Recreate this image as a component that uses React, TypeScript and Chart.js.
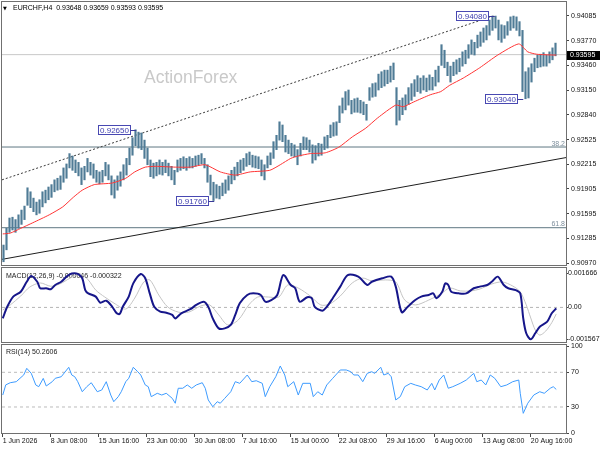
import React, { useEffect, useRef } from "react";
import { Chart, registerables } from "chart.js";

Chart.register(...registerables);

// ---------- texts ----------
const SYMBOL = "EURCHF,H4";
const LAST_OHLC = [0.93648, 0.93659, 0.93593, 0.93595];
const LAST_CLOSE = 0.93595;
const WATERMARK = "ActionForex";

// ---------- price pane (each entry = two consecutive H4 bars) ----------
const BARS_PER_ENTRY = 2;
const barHigh = [
  0.9120, 0.9141, 0.9154, 0.9155, 0.9152, 0.9158, 0.9164, 0.9169, 0.9192, 0.9187,
  0.9179, 0.9174, 0.9177, 0.9187, 0.9189, 0.9193, 0.9196, 0.9202, 0.9204, 0.9207,
  0.9217, 0.9222, 0.9235, 0.9232, 0.9227, 0.9224, 0.9217, 0.9219, 0.9229, 0.9224,
  0.9222, 0.9214, 0.9212, 0.9214, 0.9224, 0.9221, 0.9207, 0.9202, 0.9207, 0.9212,
  0.9221, 0.9229, 0.9242, 0.9255, 0.9265, 0.9262, 0.9261, 0.9252, 0.9242, 0.9227,
  0.9223, 0.9224, 0.9227, 0.9224, 0.9227, 0.9223, 0.9219, 0.9214, 0.9227, 0.9229,
  0.9231, 0.9229, 0.9231, 0.9229, 0.9232, 0.9233, 0.9235, 0.9229, 0.9221, 0.9208,
  0.9199, 0.9196, 0.9194, 0.9198, 0.9202, 0.9207, 0.9214, 0.9218, 0.9224, 0.9227,
  0.9229, 0.9235, 0.9237, 0.9233, 0.9232, 0.9231, 0.9227, 0.9221, 0.9232, 0.9236,
  0.9250, 0.9258, 0.9275, 0.9271, 0.9258, 0.9252, 0.9248, 0.9246, 0.9240, 0.9248,
  0.9256, 0.9255, 0.9252, 0.9246, 0.9245, 0.9248, 0.9247, 0.9256, 0.9258, 0.9271,
  0.9274, 0.9275, 0.9295, 0.9305, 0.9313, 0.9315, 0.9302, 0.9304, 0.9305, 0.9302,
  0.9300, 0.9297, 0.9318, 0.9323, 0.9324, 0.9335, 0.9338, 0.9340, 0.9340, 0.9345,
  0.9349, 0.9318, 0.9302, 0.9305, 0.9309, 0.9318, 0.9323, 0.9328, 0.9333, 0.9330,
  0.9333, 0.9330, 0.9334, 0.9331, 0.9340, 0.9345, 0.9372, 0.9365, 0.9350, 0.9345,
  0.9350, 0.9353, 0.9355, 0.9363, 0.9365, 0.9372, 0.9378, 0.9375, 0.9384, 0.9388,
  0.9393, 0.9396, 0.9403, 0.9408, 0.9408, 0.9403, 0.9397, 0.9396, 0.9401, 0.9407,
  0.9408, 0.9407, 0.9401, 0.9390, 0.9338, 0.9343, 0.9348, 0.9355, 0.9359, 0.9360,
  0.9362, 0.9359, 0.9363, 0.9368, 0.9374,
];
const barLow = [
  0.9099, 0.9114, 0.9136, 0.9139, 0.9136, 0.9141, 0.9146, 0.9152, 0.9170, 0.9167,
  0.9162, 0.9158, 0.9160, 0.9168, 0.9173, 0.9177, 0.9180, 0.9187, 0.9189, 0.9190,
  0.9199, 0.9204, 0.9217, 0.9214, 0.9211, 0.9207, 0.9196, 0.9202, 0.9212, 0.9208,
  0.9204, 0.9199, 0.9197, 0.9199, 0.9207, 0.9202, 0.9183, 0.9179, 0.9189, 0.9194,
  0.9202, 0.9208, 0.9221, 0.9233, 0.9245, 0.9242, 0.9240, 0.9229, 0.9221, 0.9206,
  0.9204, 0.9207, 0.9209, 0.9208, 0.9211, 0.9207, 0.9202, 0.9196, 0.9212, 0.9214,
  0.9216, 0.9214, 0.9217, 0.9217, 0.9219, 0.9221, 0.9222, 0.9217, 0.9199, 0.9183,
  0.9176, 0.9179, 0.9178, 0.9182, 0.9185, 0.9189, 0.9197, 0.9202, 0.9207, 0.9211,
  0.9214, 0.9219, 0.9221, 0.9218, 0.9217, 0.9216, 0.9207, 0.9202, 0.9217, 0.9221,
  0.9229, 0.9240, 0.9252, 0.9250, 0.9237, 0.9235, 0.9232, 0.9231, 0.9221, 0.9232,
  0.9240, 0.9240, 0.9237, 0.9223, 0.9227, 0.9232, 0.9233, 0.9240, 0.9242, 0.9255,
  0.9257, 0.9258, 0.9274, 0.9286, 0.9290, 0.9296, 0.9285, 0.9287, 0.9287, 0.9286,
  0.9284, 0.9277, 0.9302, 0.9306, 0.9307, 0.9315, 0.9318, 0.9320, 0.9323, 0.9325,
  0.9328, 0.9271, 0.9277, 0.9284, 0.9290, 0.9297, 0.9302, 0.9307, 0.9313, 0.9311,
  0.9315, 0.9313, 0.9315, 0.9315, 0.9320, 0.9325, 0.9346, 0.9343, 0.9333, 0.9325,
  0.9333, 0.9335, 0.9338, 0.9345, 0.9348, 0.9355, 0.9360, 0.9359, 0.9368, 0.9370,
  0.9375, 0.9378, 0.9384, 0.9390, 0.9393, 0.9378, 0.9375, 0.9380, 0.9384, 0.9390,
  0.9393, 0.9390, 0.9383, 0.9313, 0.9304, 0.9305, 0.9325, 0.9338, 0.9343, 0.9344,
  0.9345, 0.9345, 0.9349, 0.9353, 0.9358,
];

// moving average (red), bar index -> value
const maIdx = [0, 5, 12, 20, 31, 40, 47, 53, 61, 73, 82, 88, 95, 102, 115, 125, 135, 145, 155, 165, 178, 185, 192, 197, 205, 215, 224, 233, 242, 250, 262, 267, 274, 285, 292, 298, 307, 318, 330, 344, 350, 356, 367, 369];
const maVal = [0.9134, 0.9135, 0.9141, 0.9148, 0.9158, 0.9168, 0.9180, 0.9189, 0.9196, 0.9198, 0.9204, 0.9212, 0.9218, 0.9219, 0.9218, 0.9218, 0.9221, 0.9212, 0.9208, 0.9212, 0.9214, 0.9221, 0.9229, 0.9232, 0.9235, 0.9236, 0.9243, 0.9256, 0.9267, 0.9280, 0.9296, 0.9294, 0.9300, 0.9309, 0.9313, 0.9321, 0.9330, 0.9343, 0.9359, 0.9373, 0.9363, 0.9360, 0.9359, 0.9359];

// trend lines
const upperIdx = [-0.5, 327];
const upperVal = [0.9202, 0.9408];
const lowerIdx = [-0.5, 375.5];
const lowerVal = [0.9102, 0.9230];

// fibonacci levels
const fibNames = ["38.2", "61.8"];
const fibVal = [0.92433, 0.91418];

// swing labels
const pivotIdx = [89, 141, 328, 347];
const pivotVal = [0.9265, 0.9176, 0.9408, 0.9304];

const priceTicks = [0.9097, 0.91285, 0.91595, 0.91905, 0.92215, 0.92525, 0.9284, 0.9315, 0.9346, 0.9377, 0.94085];
const PRICE_MIN = 0.90949;
const PRICE_MAX = 0.94257;

const X_MIN = -0.5;
const X_MAX = 375.5;

// ---------- MACD ----------
const macdIdx = [0, 3, 7, 12, 16, 19, 23, 25, 29, 32, 35, 39, 43, 46, 50, 53, 55, 57, 62, 65, 69, 73, 76, 78, 80, 84, 87, 92, 95, 98, 101, 105, 109, 113, 115, 119, 125, 129, 134, 137, 140, 144, 148, 152, 155, 158, 163, 167, 172, 175, 179, 183, 187, 192, 195, 198, 203, 206, 208, 213, 216, 220, 225, 230, 237, 243, 246, 253, 259, 262, 266, 270, 275, 279, 284, 287, 289, 293, 295, 297, 299, 304, 309, 314, 318, 323, 326, 330, 334, 337, 342, 345, 347, 349, 352, 355, 358, 363, 366, 369];
const macdVal = [-0.00054, 0.00003, 0.00053, 0.00077, 0.00126, 0.00154, 0.00126, 0.00094, 0.00094, 0.00089, 0.0011, 0.00126, 0.00154, 0.001666, 0.00165, 0.00143, 0.00085, 0.00069, 0.00053, 0.00023, 0.00033, 0.00003, -0.00029, -0.00032, 0.00003, 0.00053, 0.00118, 0.00164, 0.00143, 0.00069, 0.00003, -0.00021, -0.00026, -0.00037, -0.00054, -0.00029, -0.00009, 0.00012, 0.00028, 0.00003, -0.00054, -0.00103, -0.00103, -0.00086, -0.00037, 0.0002, 0.00061, 0.00069, 0.00061, 0.00028, 0.00036, 0.00061, 0.00159, 0.0011, 0.00094, 0.00028, 0.0005, 0.00045, 0.00003, -0.00016, 0.00003, 0.00045, 0.00102, 0.00159, 0.00151, 0.0011, 0.00126, 0.00143, 0.00151, 0.00102, -0.00024, 0.00003, 0.00036, 0.00053, 0.00061, 0.00069, 0.00045, 0.00077, 0.00118, 0.0011, 0.00077, 0.00069, 0.00069, 0.00094, 0.00102, 0.0011, 0.00126, 0.00151, 0.0011, 0.00094, 0.00085, 0.00069, -0.00054, -0.00127, -0.001567, -0.00127, -0.00095, -0.0007, -0.00029, -0.000046];
const sigIdx = [0, 5, 12, 18, 25, 32, 38, 45, 52, 57, 62, 68, 75, 82, 88, 94, 98, 104, 110, 117, 124, 132, 138, 144, 150, 157, 164, 170, 177, 184, 190, 197, 205, 212, 218, 225, 233, 240, 246, 255, 262, 268, 275, 284, 292, 298, 305, 312, 318, 326, 333, 340, 345, 349, 352, 355, 358, 362, 366, 369];
const sigVal = [-0.00013, 0.00012, 0.00056, 0.001, 0.0012, 0.00104, 0.00115, 0.00144, 0.00164, 0.00135, 0.00085, 0.00051, 0.00017, -0.00008, 0.00046, 0.00125, 0.00135, 0.00061, 0.00002, -0.00023, -0.00023, 0.00007, 0.00012, -0.00037, -0.00086, -0.00062, 0.00012, 0.00051, 0.00051, 0.00051, 0.0011, 0.00095, 0.00056, 0.00012, 0.00017, 0.00056, 0.0012, 0.00144, 0.0013, 0.00135, 0.00125, 0.00036, 0.00012, 0.00036, 0.00066, 0.00095, 0.00081, 0.00081, 0.0009, 0.00115, 0.00125, 0.00105, 0.00076, 0.00012, -0.00052, -0.00111, -0.00136, -0.00116, -0.00075, -0.000322];
const macdTicks = [-0.001567, 0, 0.001666];
const MACD_MIN = -0.001699;
const MACD_MAX = 0.001935;

// ---------- RSI ----------
const rsiIdx = [0, 2, 5, 9, 14, 16, 19, 22, 24, 27, 29, 33, 35, 39, 44, 46, 48, 50, 53, 56, 59, 63, 66, 69, 72, 74, 77, 79, 82, 84, 87, 90, 92, 95, 97, 99, 103, 106, 109, 113, 115, 117, 120, 123, 126, 129, 133, 135, 137, 140, 143, 145, 148, 152, 155, 158, 163, 166, 169, 173, 175, 178, 182, 185, 188, 190, 194, 197, 200, 205, 207, 210, 213, 216, 220, 225, 229, 232, 234, 237, 240, 243, 246, 248, 252, 254, 257, 259, 262, 265, 268, 272, 275, 279, 283, 286, 288, 291, 294, 297, 300, 305, 309, 314, 316, 319, 322, 325, 328, 332, 336, 340, 344, 345, 347, 350, 354, 358, 361, 365, 367, 369];
const rsiVal = [43.8, 55.5, 58, 59.2, 67, 74.6, 68.8, 55.4, 53.4, 63, 54.2, 59.2, 63.1, 64.9, 75.8, 66.9, 64.9, 59.2, 47.6, 53.4, 58, 47.6, 49.6, 59.2, 43.8, 36.1, 41.9, 47.6, 59.2, 63.1, 75.8, 70.7, 66.9, 55.4, 53.4, 41.9, 45.8, 43.8, 45.8, 40, 34.3, 51.6, 51.6, 55.4, 51.6, 55.4, 58, 51.6, 38.1, 30.3, 36.1, 34.3, 40, 47.6, 59.2, 57.3, 66.9, 59.2, 60.3, 57.3, 41.9, 53.4, 64.9, 77.3, 66.9, 53.4, 59.2, 43.8, 57.3, 57.3, 41.9, 47.6, 43.8, 55.4, 63.1, 72.7, 72.7, 70.7, 66.9, 66.9, 59.2, 68.8, 70.7, 68.8, 75.8, 66.9, 68.8, 64.9, 38.1, 41.9, 53.4, 57.3, 55.4, 53.4, 49.6, 57.3, 49.6, 61.1, 66.9, 51.6, 53.4, 57.3, 61.1, 68.8, 59.2, 61.1, 55.4, 66.9, 63.1, 53.4, 55.4, 59.2, 61.1, 45.8, 22.7, 34.3, 43.8, 47.6, 45.8, 51.6, 53.4, 50.2606];
const rsiTicks = [0, 30, 70, 100];
const rsiLevels = [70, 30];
const RSI_MIN = 0;
const RSI_MAX = 101.5;

// ---------- time axis ----------
const timeTickIdx = [0, 32, 64, 96, 128, 160, 192, 224, 256, 288, 320, 352];
const timeTickLabels = ["1 Jun 2026", "8 Jun 08:00", "15 Jun 16:00", "23 Jun 00:00", "30 Jun 08:00", "7 Jul 16:00", "15 Jul 00:00", "22 Jul 08:00", "29 Jul 16:00", "6 Aug 00:00", "13 Aug 08:00", "20 Aug 16:00"];

// ---------- helpers ----------
const FAMILY = "'Liberation Sans', Arial, Helvetica, sans-serif";
const F7 = `7px ${FAMILY}`;

const pts = (xs: number[], ys: number[]) => xs.map((x, i) => ({ x, y: ys[i] }));
const hline = (v: number) => [{ x: X_MIN, y: v }, { x: X_MAX, y: v }];

function rightAxis(min: number, max: number, ticks: number[], fmt: (v: number) => string, pad = 2, tickLen = 3) {
  return {
    position: "right",
    min,
    max,
    afterBuildTicks: (s: any) => {
      s.ticks = ticks.map((v) => ({ value: v }));
    },
    afterFit: (s: any) => {
      s.width = 34;
      s.paddingTop = 0;
      s.paddingBottom = 0;
    },
    ticks: {
      callback: (v: any) => fmt(Number(v)),
      font: { family: FAMILY, size: 7 },
      color: "#111",
      padding: pad,
      autoSkip: false,
    },
    grid: { drawOnChartArea: false, drawTicks: true, tickLength: tickLen, color: "#444" },
    border: { display: false },
  };
}

const framePlugin = {
  id: "frame",
  afterDraw(chart: any) {
    const { ctx, chartArea: a } = chart;
    ctx.save();
    ctx.strokeStyle = "#707070";
    ctx.lineWidth = 1;
    ctx.strokeRect(a.left - 0.5, a.top - 0.5, a.right - a.left + 1, a.bottom - a.top + 1);
    ctx.restore();
  },
};

const baseOptions = (padding: any) => ({
  responsive: false,
  animation: false,
  events: [],
  layout: { padding, autoPadding: false },
  plugins: { legend: { display: false }, tooltip: { enabled: false } },
});

const lineDs = (data: any, color: string, width: number, extra: any = {}) => ({
  type: "line",
  data,
  borderColor: color,
  borderWidth: width,
  pointRadius: 0,
  fill: false,
  ...extra,
});

// ---------- main pane ----------
const mainOverlay = {
  id: "mainOverlay",
  beforeDatasetsDraw(chart: any) {
    const { ctx } = chart;
    ctx.save();
    ctx.font = `17.5px ${FAMILY}`;
    ctx.fillStyle = "#c9c9c9";
    ctx.textAlign = "left";
    ctx.textBaseline = "alphabetic";
    ctx.fillText(WATERMARK, 144, 83);
    ctx.restore();
  },
  afterDatasetsDraw(chart: any) {
    const { ctx, chartArea: a } = chart;
    const x = chart.scales.x;
    const y = chart.scales.y;
    ctx.save();
    // fibonacci level names
    ctx.font = F7;
    ctx.fillStyle = "#7d8e9c";
    ctx.textAlign = "right";
    ctx.textBaseline = "alphabetic";
    fibVal.forEach((v, i) => ctx.fillText(fibNames[i], a.right - 1, y.getPixelForValue(v) - 1.5));
    // swing labels
    ctx.font = `8px ${FAMILY}`;
    pivotIdx.forEach((idx, i) => {
      const ax = x.getPixelForValue(idx);
      const ay = Math.round(y.getPixelForValue(pivotVal[i]));
      const w = 32;
      const h = 9;
      const bx = Math.round(ax - 6.5 - w);
      const by = ay - 4;
      ctx.fillStyle = "#fff";
      ctx.fillRect(bx, by, w, h);
      ctx.strokeStyle = "#4848b2";
      ctx.lineWidth = 1;
      ctx.strokeRect(bx + 0.5, by - 0.5, w, h);
      ctx.strokeStyle = "#3a3a9a";
      ctx.beginPath();
      ctx.moveTo(bx + w + 0.5, ay + 0.5);
      ctx.lineTo(ax, ay + 0.5);
      ctx.stroke();
      ctx.fillStyle = "#3c3cae";
      ctx.textAlign = "center";
      ctx.textBaseline = "middle";
      ctx.fillText(pivotVal[i].toFixed(5), bx + w / 2 + 0.5, ay + 0.5);
    });
    // title
    ctx.fillStyle = "#000";
    ctx.font = `5px 'DejaVu Sans', sans-serif`;
    ctx.textAlign = "left";
    ctx.textBaseline = "alphabetic";
    ctx.fillText("\u25BC", 3, 9.5);
    ctx.font = F7;
    ctx.fillText(`${SYMBOL}  ${LAST_OHLC.map((v) => v.toFixed(5)).join(" ")}`, 13, 10);
    ctx.restore();
  },
  afterDraw(chart: any) {
    const { ctx, chartArea: a } = chart;
    const y = chart.scales.y;
    const yp = Math.round(y.getPixelForValue(LAST_CLOSE));
    ctx.save();
    ctx.fillStyle = "#000";
    ctx.fillRect(a.right + 1, yp - 4, 33, 9);
    ctx.fillStyle = "#fff";
    ctx.font = F7;
    ctx.textAlign = "left";
    ctx.textBaseline = "middle";
    ctx.fillText(LAST_CLOSE.toFixed(5), a.right + 4, yp + 0.5);
    ctx.restore();
  },
};

function mainConfig(): any {
  return {
    type: "bar",
    data: {
      datasets: [
        lineDs(pts(maIdx, maVal), "#ff3535", 1, { tension: 0.2, order: 0 }),
        {
          type: "bar",
          label: SYMBOL,
          data: barHigh.map((h, k) => ({ x: k * BARS_PER_ENTRY + 0.5, y: [barLow[k], h] })),
          backgroundColor: "#4f7b96",
          borderWidth: 0,
          barThickness: 1.5,
          order: 1,
        },
        lineDs(pts(upperIdx, upperVal), "#3a3a3a", 1, { borderDash: [2, 2], order: 2 }),
        lineDs(pts(lowerIdx, lowerVal), "#1e1e1e", 1, { order: 2 }),
        ...fibVal.map((v) => lineDs(hline(v), "#5f7782", 1, { order: 3 })),
        lineDs(hline(LAST_CLOSE), "#c8c8c8", 1, { order: 4 }),
      ],
    },
    options: {
      ...baseOptions({ left: 2, top: 2, right: 0, bottom: 2 }),
      scales: {
        x: { type: "linear", min: X_MIN, max: X_MAX, offset: false, display: false },
        y: rightAxis(PRICE_MIN, PRICE_MAX, priceTicks, (v) => v.toFixed(5)),
      },
    },
    plugins: [mainOverlay, framePlugin],
  };
}

// ---------- MACD pane ----------
const macdOverlay = {
  id: "macdOverlay",
  beforeDatasetsDraw(chart: any) {
    const { ctx } = chart;
    ctx.save();
    ctx.font = F7;
    ctx.fillStyle = "#222";
    ctx.textAlign = "left";
    ctx.textBaseline = "alphabetic";
    const m = macdVal[macdVal.length - 1].toFixed(6);
    const s = sigVal[sigVal.length - 1].toFixed(6);
    ctx.fillText(`MACD(12,26,9) ${m} ${s}`, 6, 11.5);
    ctx.restore();
  },
};

function macdConfig(): any {
  return {
    type: "line",
    data: {
      datasets: [
        lineDs(pts(macdIdx, macdVal), "#16168a", 2, { tension: 0.3, order: 0 }),
        lineDs(pts(sigIdx, sigVal), "#c4c4c4", 1, { tension: 0.3, order: 1 }),
        lineDs(hline(0), "#b4b4b4", 1, { borderDash: [3, 3], order: 2 }),
      ],
    },
    options: {
      ...baseOptions({ left: 2, top: 2, right: 0, bottom: 2 }),
      scales: {
        x: { type: "linear", min: X_MIN, max: X_MAX, offset: false, display: false },
        y: rightAxis(MACD_MIN, MACD_MAX, macdTicks, (v) => (v === 0 ? "0.00" : v.toFixed(6)), 0, 2),
      },
    },
    plugins: [macdOverlay, framePlugin],
  };
}

// ---------- RSI pane ----------
const rsiOverlay = {
  id: "rsiOverlay",
  beforeDatasetsDraw(chart: any) {
    const { ctx } = chart;
    ctx.save();
    ctx.font = F7;
    ctx.fillStyle = "#222";
    ctx.textAlign = "left";
    ctx.textBaseline = "alphabetic";
    ctx.fillText(`RSI(14) ${rsiVal[rsiVal.length - 1].toFixed(4)}`, 6, 10.5);
    ctx.restore();
  },
};

function rsiConfig(): any {
  return {
    type: "line",
    data: {
      datasets: [
        lineDs(pts(rsiIdx, rsiVal), "#3d9bff", 1, { order: 0 }),
        ...rsiLevels.map((v) => lineDs(hline(v), "#bcbcbc", 1, { borderDash: [3, 3], order: 1 })),
      ],
    },
    options: {
      ...baseOptions({ left: 2, top: 2, right: 0, bottom: 0 }),
      scales: {
        x: {
          type: "linear",
          position: "bottom",
          min: X_MIN,
          max: X_MAX,
          offset: false,
          afterBuildTicks: (s: any) => {
            s.ticks = timeTickIdx.map((v) => ({ value: v }));
          },
          afterFit: (s: any) => {
            s.height = 17;
            s.paddingLeft = 0;
            s.paddingRight = 0;
          },
          ticks: {
            callback: (_v: any, i: number) => timeTickLabels[i],
            align: "start",
            maxRotation: 0,
            minRotation: 0,
            autoSkip: false,
            padding: 0,
            font: { family: FAMILY, size: 7 },
            color: "#111",
          },
          grid: { drawOnChartArea: false, drawTicks: true, tickLength: 4, color: "#444" },
          border: { display: false },
        },
        y: rightAxis(RSI_MIN, RSI_MAX, rsiTicks, (v) => String(v)),
      },
    },
    plugins: [rsiOverlay, framePlugin],
  };
}

export default function App() {
  const mainRef = useRef<HTMLCanvasElement>(null);
  const macdRef = useRef<HTMLCanvasElement>(null);
  const rsiRef = useRef<HTMLCanvasElement>(null);

  useEffect(() => {
    const charts = [
      new Chart(mainRef.current as HTMLCanvasElement, mainConfig()),
      new Chart(macdRef.current as HTMLCanvasElement, macdConfig()),
      new Chart(rsiRef.current as HTMLCanvasElement, rsiConfig()),
    ];
    return () => charts.forEach((c) => c.destroy());
  }, []);

  const abs = (top: number, h: number): React.CSSProperties => ({
    position: "absolute",
    left: 0,
    top,
    width: 600,
    height: h,
    display: "block",
  });

  return (
    <div style={{ position: "fixed", left: 0, top: 0, width: 600, height: 450, background: "#fff", overflow: "hidden" }}>
      <canvas ref={mainRef} width={600} height={267} style={abs(0, 267)} />
      <canvas ref={macdRef} width={600} height={78} style={abs(266, 78)} />
      <canvas ref={rsiRef} width={600} height={107} style={abs(343, 107)} />
    </div>
  );
}
